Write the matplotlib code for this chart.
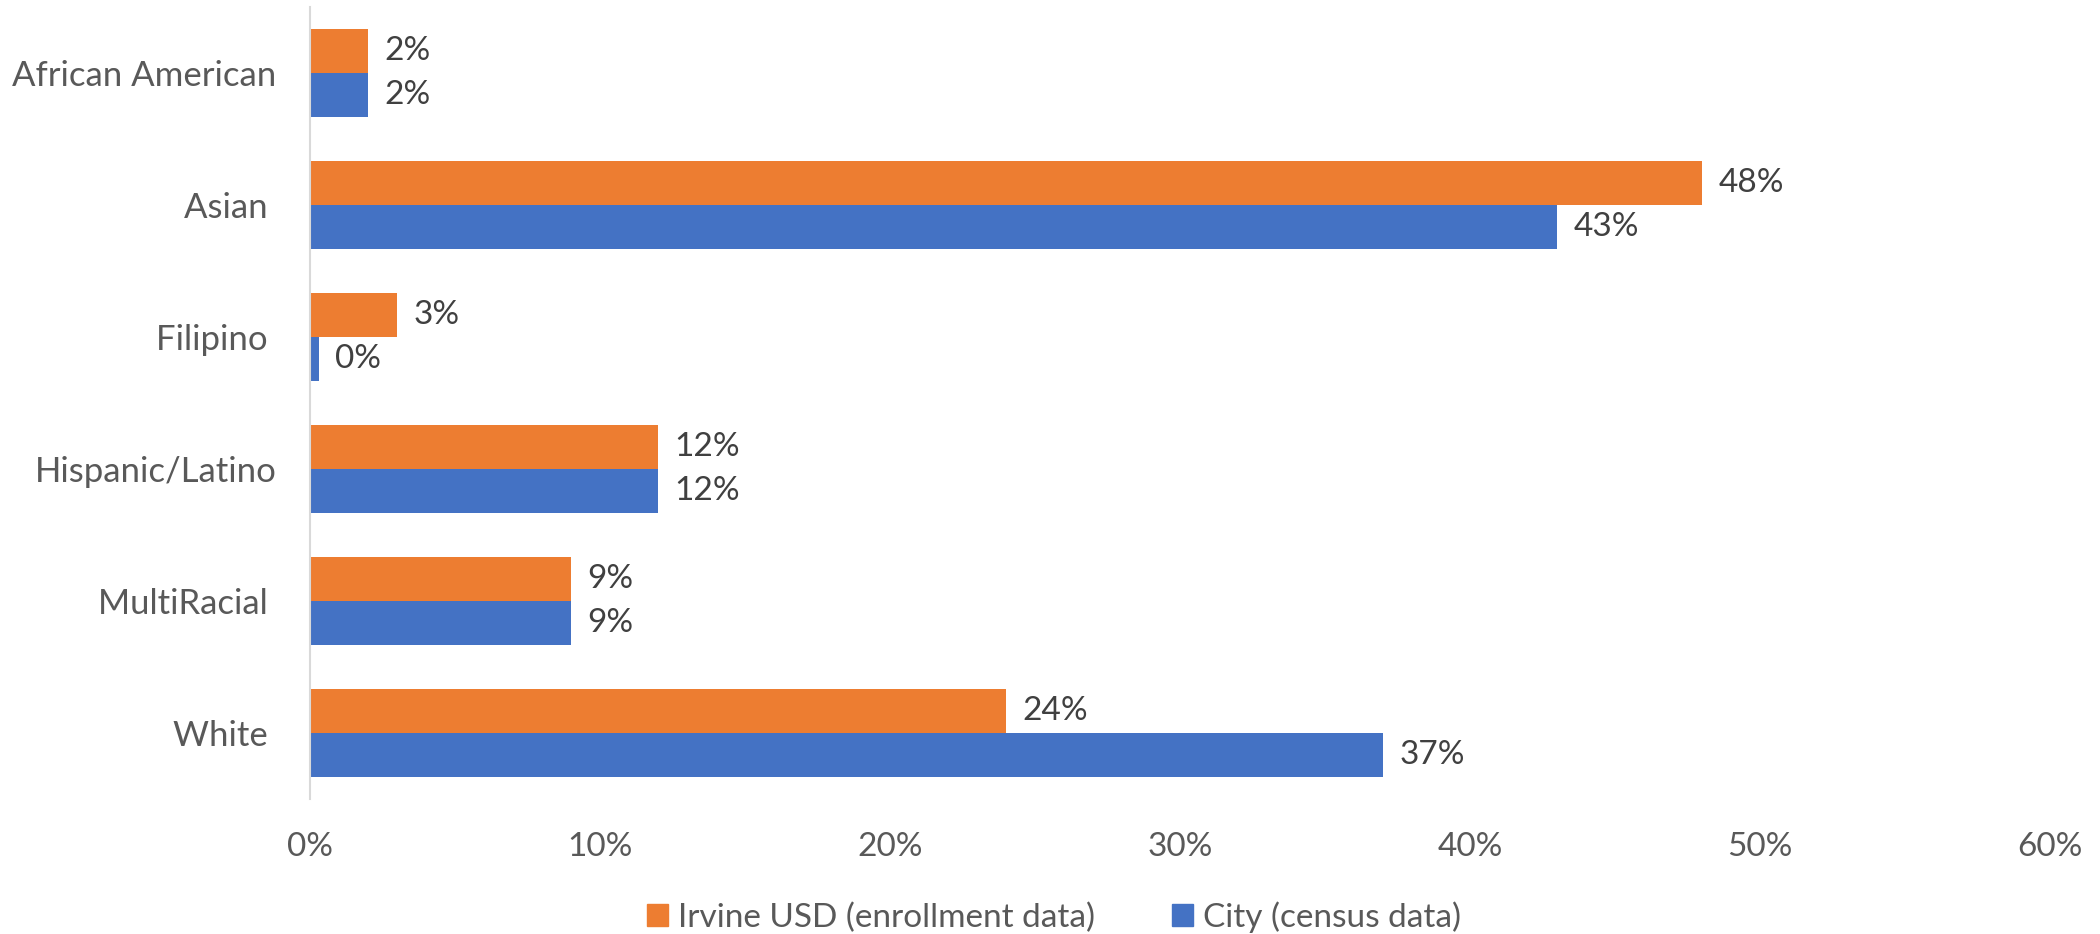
import numpy as np
import matplotlib.pyplot as plt
from matplotlib.patches import Patch

# datos del grafico
categorias = ['African American', 'Asian ', 'Filipino ', 'Hispanic/Latino', 'MultiRacial ', 'White ']
irvine_usd = [2, 48, 3, 12, 9, 24]
ciudad = [2, 43, 0.3, 12, 9, 37]
ticks_x = [0, 10, 20, 30, 40, 50, 60]

naranja = '#ED7D31'
azul = '#4472C4'

plt.rcParams['font.family'] = ['Lato', 'DejaVu Sans']

fig = plt.figure(figsize=(21, 9.34), dpi=100)
ax = fig.add_axes([310/2100, 1 - 799/934, (2050-310)/2100, 792/934])

y = np.arange(len(categorias))
alto = 1/3
b1 = ax.barh(y - alto/2, irvine_usd, height=alto, color=naranja)
b2 = ax.barh(y + alto/2, ciudad, height=alto, color=azul)

# etiquetas de valores
for barras, valores in [(b1, irvine_usd), (b2, ciudad)]:
    for b, v in zip(barras, valores):
        ax.annotate('{:.0f}%'.format(v), (b.get_width(), b.get_y() + b.get_height()/2),
                    xytext=(12, 0), textcoords='offset points', va='center', ha='left',
                    fontsize=24, color='#404040')

ax.set_ylim(len(categorias) - 0.5, -0.5)
ax.set_xlim(0, 60)
ax.set_yticks(y)
ax.set_yticklabels(categorias)
ax.set_xticks(ticks_x)
ax.set_xticklabels(['{}%'.format(t) for t in ticks_x])
ax.tick_params(axis='both', length=0, labelsize=24, labelcolor='#595959')
ax.tick_params(axis='y', pad=24, labelsize=25)
ax.tick_params(axis='x', pad=24)

for lado in ['top', 'right', 'bottom']:
    ax.spines[lado].set_visible(False)
ax.spines['left'].set_color('#D9D9D9')
ax.spines['left'].set_linewidth(1.5)

manijas = [Patch(color=naranja), Patch(color=azul)]
fig.legend(manijas, ['Irvine USD (enrollment data)', 'City (census data)'],
           loc='center', bbox_to_anchor=(0.502, 0.018), ncol=2, frameon=False,
           fontsize=24, labelcolor='#595959', handlelength=0.64, handleheight=0.64,
           handletextpad=0.3, columnspacing=2.3, borderpad=0, borderaxespad=0)

plt.savefig('out.png', dpi=100)
